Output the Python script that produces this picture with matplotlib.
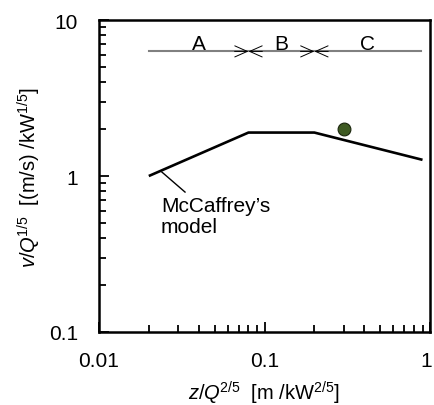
import matplotlib
matplotlib.use("Agg")
import math
import matplotlib.pyplot as plt
import matplotlib.transforms as mtransforms
from matplotlib.ticker import LogLocator, FixedLocator, NullFormatter

plt.rcParams['font.family'] = ['Liberation Sans', 'DejaVu Sans']
plt.rcParams['mathtext.fontset'] = 'custom'
plt.rcParams['mathtext.rm'] = 'Liberation Sans'
plt.rcParams['mathtext.it'] = 'Liberation Sans:italic'

# McCaffrey's model
model_x = [0.02, 0.08, 0.2, 0.9]
model_y = [1.0, 1.9, 1.9, 1.27]
# measured point
point_x = [0.3]
point_y = [2.0]
# region boundaries and labels
region_edges = [0.02, 0.08, 0.2, 0.88]
region_labels = ['A', 'B', 'C']
region_y = 6.3

xticks = [0.01, 0.1, 1]
xticklabels = ['0.01', '0.1', '1']
yticks = [0.1, 1, 10]
yticklabels = ['0.1', '1', '10']

fig = plt.figure(figsize=(4.34, 4.06), dpi=100)
ax = fig.add_axes([0.228, 0.180, 0.763, 0.768])
ax.set_xscale('log')
ax.set_yscale('log')
ax.set_xlim(0.01, 1)
ax.set_ylim(0.1, 10)

ax.plot(model_x, model_y, color='black', lw=1.9, solid_capstyle='butt', zorder=3)
ax.scatter(point_x, point_y, s=85, color='#3e5a22', edgecolor='#1b260e', lw=0.8, zorder=4)

# region line
ax.plot([region_edges[0], region_edges[-1]], [region_y, region_y], color='#808080', lw=1.5, zorder=2)
for b in region_edges[1:-1]:
    for sgn in (-1, 1):
        ax.annotate('', xy=(b, region_y), xycoords='data',
                    xytext=(sgn * 10, 0), textcoords='offset points',
                    arrowprops=dict(arrowstyle='->, head_length=0.9, head_width=0.4',
                                    color='black', lw=0.7, mutation_scale=10,
                                    shrinkA=0, shrinkB=0), zorder=3)
for i, lab in enumerate(region_labels):
    lo, hi = region_edges[i], region_edges[i + 1]
    xc = 10 ** ((math.log10(lo) + math.log10(hi)) / 2)
    ax.text(xc, region_y * 1.03, lab, ha='center', va='baseline', fontsize=15)

# annotation
ax.plot([0.024, 0.0331], [1.06, 0.789], color='black', lw=1.0, zorder=3)
ax.text(0.0237, 0.74, "McCaffrey\u2019s\nmodel", ha='left', va='top',
        fontsize=15, linespacing=1.1)

ax.xaxis.set_major_locator(FixedLocator(xticks))
ax.set_xticklabels(xticklabels)
ax.yaxis.set_major_locator(FixedLocator(yticks))
ax.set_yticklabels(yticklabels)
ax.xaxis.set_minor_locator(LogLocator(base=10, subs=range(2, 10)))
ax.yaxis.set_minor_locator(LogLocator(base=10, subs=range(2, 10)))
ax.xaxis.set_minor_formatter(NullFormatter())
ax.yaxis.set_minor_formatter(NullFormatter())
ax.tick_params(which='both', direction='in', top=False, right=False, labelsize=15, width=1.3)
ax.tick_params(axis='x', which='major', length=7, pad=14)
ax.tick_params(axis='y', which='major', length=7, pad=15)
ax.tick_params(which='minor', length=5)
for s in ax.spines.values():
    s.set_linewidth(1.8)
# keep the last x tick label inside the figure
last = ax.get_xticklabels()[-1]
last.set_transform(last.get_transform() +
                   mtransforms.ScaledTranslation(-4 / 100, 0, fig.dpi_scale_trans))

ax.set_xlabel(r'$\it{z}$/$\it{Q}$$^{2/5}$  [m /kW$^{2/5}$]', fontsize=14.5, labelpad=6)
ax.set_ylabel(r'$\it{v}$/$\it{Q}$$^{1/5}$  [(m/s) /kW$^{1/5}$]', fontsize=14.5, labelpad=4)

fig.savefig('out.png', dpi=100)
